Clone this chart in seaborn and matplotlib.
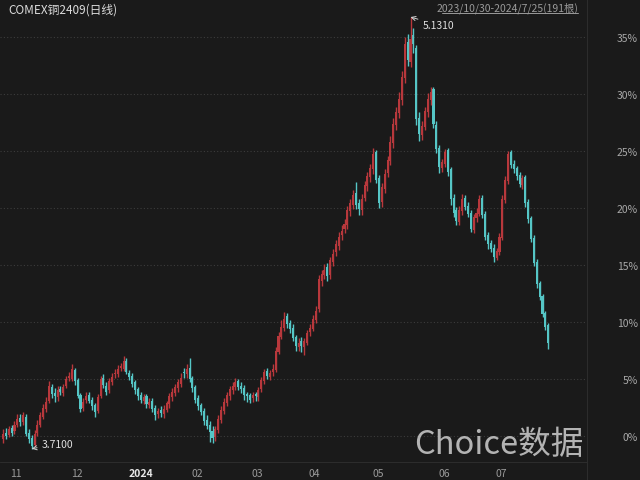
import numpy as np
import pandas as pd
import matplotlib
matplotlib.use("Agg")
import matplotlib.pyplot as plt
import seaborn as sns
from matplotlib.lines import Line2D

# --------------------------------------------------------------
# Daily candles, % change vs. base (0% line), 191 bars
# --------------------------------------------------------------
opens = [
    -0.3, 0.3, 0.1, 0.7, 0.4, 1.0, 1.6, 1.2, 1.7, 0.3,
    -0.2, -0.8, 0.3, 1.0, 1.7, 2.4, 3.1, 4.3, 3.8, 3.4,
    4.1, 3.8, 4.4, 5.1, 5.0, 5.8, 4.9, 3.6, 2.5, 3.2,
    3.6, 3.2, 2.7, 2.2, 3.5, 5.1, 4.4, 4.0, 4.7, 5.4,
    5.4, 6.0, 5.9, 6.6, 5.5, 5.3, 4.7, 4.1, 3.6, 3.1,
    3.5, 2.7, 3.1, 2.5, 1.9, 2.3, 1.9, 2.3, 2.8, 3.4,
    3.8, 4.2, 4.6, 5.6, 5.4, 6.0, 5.1, 4.3, 3.3, 2.7,
    2.2, 1.4, 1.0, 0.4, -0.1, 0.5, 1.4, 2.2, 2.9, 3.5,
    4.0, 4.3, 4.8, 4.4, 4.2, 3.7, 3.6, 3.3, 3.7, 3.4,
    4.1, 4.8, 5.7, 5.2, 5.6, 5.8, 7.4, 8.7, 9.5, 10.5,
    9.9, 9.5, 8.7, 7.8, 8.3, 7.8, 8.2, 9.1, 9.4, 10.2,
    11.1, 13.6, 14.1, 14.8, 14.1, 15.3, 16.1, 16.7, 17.6, 18.2,
    18.5, 19.7, 20.3, 21.3, 20.4, 19.8, 20.9, 21.9, 22.7, 23.4,
    24.9, 22.6, 20.5, 21.7, 23.1, 24.1, 25.7, 27.3, 28.3, 29.5,
    31.4, 34.6, 32.8, 35.2, 34.0, 27.9, 26.4, 27.1, 28.4, 29.5,
    30.4, 27.3, 25.3, 23.5, 23.9, 25.1, 23.4, 20.9, 19.8, 18.8,
    19.7, 20.9, 20.2, 19.6, 18.1, 19.1, 19.5, 20.9, 19.5, 17.6,
    16.9, 16.5, 15.6, 16.1, 17.4, 20.7, 22.4, 24.9, 23.9, 23.5,
    22.9, 22.0, 22.7, 20.5, 19.1, 17.4, 15.3, 13.4, 12.3, 10.8,
    9.7,
]
highs = [
    0.6, 0.7, 0.9, 1.0, 1.3, 1.9, 1.9, 2.1, 1.9, 0.6,
    0.1, 0.5, 1.4, 2.1, 2.8, 3.4, 4.8, 4.6, 4.2, 4.4,
    4.4, 4.6, 5.3, 5.6, 6.3, 6.0, 5.1, 3.8, 3.3, 3.9,
    3.9, 3.4, 2.9, 3.7, 5.3, 5.4, 4.7, 5.1, 5.5, 5.9,
    6.2, 6.4, 7.0, 6.8, 5.8, 5.5, 4.9, 4.3, 3.9, 3.7,
    3.7, 3.3, 3.3, 2.7, 2.5, 2.6, 2.7, 3.1, 3.8, 4.2,
    4.6, 5.0, 5.5, 6.0, 6.3, 6.8, 5.3, 4.5, 3.6, 2.9,
    2.5, 1.8, 1.3, 0.9, 0.9, 1.8, 2.6, 3.3, 3.9, 4.4,
    4.7, 5.1, 5.0, 4.7, 4.5, 3.9, 3.8, 3.9, 3.9, 4.3,
    5.2, 5.9, 6.0, 5.8, 6.3, 7.8, 9.1, 10.2, 10.9, 10.8,
    10.2, 9.8, 8.9, 8.6, 8.7, 8.6, 9.3, 9.8, 10.6, 11.4,
    14.1, 14.6, 15.1, 15.2, 15.7, 16.4, 17.2, 17.9, 18.5, 19.0,
    20.2, 20.8, 21.6, 22.3, 20.8, 21.2, 22.4, 23.2, 23.9, 25.3,
    25.1, 22.9, 22.2, 23.4, 24.6, 26.3, 27.9, 28.9, 30.2, 32.0,
    35.0, 35.3, 36.75, 35.8, 34.3, 28.4, 27.6, 28.9, 30.1, 30.6,
    30.6, 27.6, 25.5, 24.3, 25.2, 25.3, 23.6, 21.2, 20.1, 20.2,
    21.2, 21.1, 20.5, 19.8, 19.5, 20.0, 21.1, 21.1, 19.7, 17.9,
    17.2, 16.8, 16.5, 17.8, 21.1, 22.8, 25.0, 25.1, 24.2, 23.7,
    23.2, 22.9, 22.9, 20.8, 19.3, 17.6, 15.5, 13.6, 12.5, 11.0,
    9.9,
]
lows = [
    -0.6, -0.3, -0.1, 0.0, 0.2, 0.8, 0.9, 1.0, 0.0, -0.6,
    -1.12, -0.9, 0.0, 0.8, 1.5, 2.1, 2.9, 3.3, 3.0, 3.1,
    3.6, 3.5, 4.2, 4.8, 4.8, 4.5, 3.3, 2.1, 2.2, 2.9,
    2.9, 2.3, 1.7, 2.0, 3.3, 4.2, 3.6, 3.8, 4.5, 5.1,
    5.2, 5.7, 5.7, 5.4, 4.9, 4.3, 3.7, 3.2, 2.9, 2.8,
    2.5, 2.5, 2.1, 1.4, 1.6, 1.7, 1.6, 2.1, 2.5, 3.1,
    3.5, 3.9, 4.3, 5.1, 5.1, 4.7, 3.9, 2.9, 2.3, 1.8,
    1.0, 0.6, -0.5, -0.6, -0.4, 0.3, 1.1, 1.9, 2.6, 3.2,
    3.7, 4.0, 4.0, 3.8, 3.2, 3.0, 2.9, 3.0, 3.1, 3.1,
    3.9, 4.6, 5.0, 4.9, 5.3, 5.6, 7.2, 8.5, 9.2, 9.5,
    9.0, 8.3, 7.5, 7.5, 7.4, 7.1, 8.0, 8.8, 9.2, 9.9,
    10.9, 13.2, 13.8, 13.6, 13.8, 14.9, 15.8, 16.3, 17.2, 17.8,
    18.2, 19.3, 19.9, 19.9, 19.4, 19.4, 20.6, 21.5, 22.3, 23.0,
    22.2, 20.0, 20.1, 21.3, 22.7, 23.8, 25.3, 26.8, 27.9, 29.0,
    31.0, 32.5, 32.4, 33.6, 27.3, 25.9, 26.0, 26.8, 28.0, 29.0,
    27.0, 24.8, 23.1, 23.2, 23.6, 22.8, 20.3, 19.2, 18.5, 18.5,
    19.4, 19.8, 19.2, 17.9, 17.8, 18.8, 19.3, 19.1, 17.2, 16.4,
    16.1, 15.3, 15.4, 15.9, 17.2, 20.4, 22.1, 23.5, 23.1, 22.5,
    21.8, 21.7, 20.1, 18.7, 17.0, 14.9, 13.0, 11.9, 10.4, 9.3,
    7.6,
]
closes = [
    0.2, 0.0, 0.6, 0.3, 1.0, 1.5, 1.2, 1.8, 0.2, -0.3,
    -0.9, 0.2, 1.0, 1.8, 2.5, 3.0, 4.4, 3.7, 3.5, 4.0,
    3.9, 4.3, 5.0, 5.2, 5.9, 4.8, 3.5, 2.4, 3.0, 3.5,
    3.1, 2.6, 2.1, 3.4, 5.0, 4.5, 3.9, 4.8, 5.2, 5.5,
    5.9, 6.1, 6.6, 5.6, 5.2, 4.6, 4.0, 3.5, 3.2, 3.4,
    2.8, 3.0, 2.4, 1.8, 2.2, 2.0, 2.4, 2.9, 3.5, 3.9,
    4.3, 4.7, 5.1, 5.5, 5.9, 5.0, 4.2, 3.2, 2.6, 2.1,
    1.3, 0.9, 0.35, -0.2, 0.6, 1.5, 2.3, 3.0, 3.6, 4.1,
    4.4, 4.7, 4.3, 4.1, 3.6, 3.5, 3.2, 3.6, 3.5, 4.0,
    4.9, 5.6, 5.3, 5.5, 5.9, 7.5, 8.8, 9.6, 10.3, 9.8,
    9.4, 8.6, 7.9, 8.2, 7.9, 8.3, 9.0, 9.5, 10.3, 11.0,
    13.8, 14.2, 14.6, 14.0, 15.4, 16.0, 16.8, 17.5, 18.0, 18.6,
    19.8, 20.4, 21.1, 20.3, 19.9, 20.8, 22.0, 22.8, 23.5, 24.7,
    22.5, 20.4, 21.8, 23.0, 24.2, 25.8, 27.4, 28.4, 29.6, 31.5,
    34.4, 33.0, 34.8, 34.4, 27.8, 26.5, 27.2, 28.5, 29.6, 30.2,
    27.4, 25.2, 23.6, 24.0, 24.9, 23.2, 20.8, 19.6, 18.9, 19.8,
    20.8, 20.1, 19.5, 18.2, 19.2, 19.6, 20.8, 19.4, 17.5, 16.8,
    16.4, 15.7, 16.2, 17.5, 20.8, 22.5, 24.7, 23.8, 23.4, 22.8,
    22.1, 22.6, 20.4, 19.0, 17.3, 15.2, 13.3, 12.2, 10.7, 9.6,
    8.2,
]

month_labels = ["11", "12", "2024", "02", "03", "04", "05", "06", "07"]
month_idx = [3, 24, 44, 66, 87, 107, 129, 152, 172]
pct_ticks = [0, 5, 10, 15, 20, 25, 30, 35]

title = "COMEX铜2409(日线)"
range_text = "2023/10/30-2024/7/25(191根)"
high_label, high_idx, high_pct = "5.1310", 142, 36.75
low_label, low_idx, low_pct = "3.7100", 10, -1.12

BG = "#1a1a1a"
UP = "#b8383c"
DOWN = "#55c6c6"

sns.set_theme(style="dark", rc={
    "figure.facecolor": BG,
    "axes.facecolor": BG,
    "savefig.facecolor": BG,
})
plt.rcParams["font.family"] = ["Noto Sans CJK SC", "DejaVu Sans"]

df = pd.DataFrame({"open": opens, "high": highs, "low": lows, "close": closes})
df["x"] = np.arange(len(df))
df["up"] = df["close"] >= df["open"]
colors = np.where(df["up"], UP, DOWN)

fig = plt.figure(figsize=(6.4, 4.81), dpi=100)
ax = fig.add_axes([0, 0, 587 / 640, 1])

# wicks and bodies
ax.vlines(df["x"], df["low"], df["high"], colors=colors, lw=1)
body_lo = df[["open", "close"]].min(axis=1)
body_h = (df["close"] - df["open"]).abs().clip(lower=0.12)
ax.bar(df["x"], body_h, bottom=body_lo, width=0.72, color=colors, linewidth=0)

ax.set_xlim(-1.05, 203.5)
ax.set_ylim(-(481 - 437) / 11.4, 437 / 11.4)

# right-hand % axis
ax.yaxis.tick_right()
ax.set_yticks(pct_ticks)
ax.set_yticklabels([f"{t}%" for t in pct_ticks])
ax.tick_params(axis="y", length=0, pad=36.5, labelsize=7.5, labelcolor="#a8a8a8")
for lbl in ax.get_yticklabels():
    lbl.set_ha("right")
ax.set_xticks([])
ax.yaxis.grid(True, color="#3c3c3c", linestyle=(0, (1, 2)), lw=0.8)
ax.xaxis.grid(False)
for s in ["top", "left", "bottom"]:
    ax.spines[s].set_visible(False)
ax.spines["right"].set_color("#2c2c2c")
ax.spines["right"].set_linewidth(0.8)

# x-axis strip separator and month labels
ax.axhline(-(463 - 437) / 11.4, color="#2c2c2c", lw=0.8)
for lab, i in zip(month_labels, month_idx):
    bold = lab == "2024"
    ax.text(i - 0.4, -(474 - 437) / 11.4, lab, ha="left", va="center",
            fontsize=7.5, color="#e8e8e8" if bold else "#9a9a9a",
            fontweight="bold" if bold else "normal")

# high / low markers
ax.annotate(high_label, xy=(high_idx, high_pct), xytext=(12, -8),
            textcoords="offset pixels", ha="left", va="center",
            fontsize=7.5, color="#e0e0e0",
            arrowprops=dict(arrowstyle="->", color="#d0d0d0", lw=0.7,
                            shrinkA=1, shrinkB=0))
ax.annotate(low_label, xy=(low_idx, low_pct), xytext=(10, 5),
            textcoords="offset pixels", ha="left", va="center",
            fontsize=7.5, color="#e0e0e0",
            arrowprops=dict(arrowstyle="->", color="#d0d0d0", lw=0.7,
                            shrinkA=1, shrinkB=0))

# header texts
fig.text(8 / 640, 1 - 10 / 481, title, ha="left", va="center",
         fontsize=8.5, color="#dcdcdc")
fig.text(578 / 640, 1 - 8 / 481, range_text, ha="right", va="center",
         fontsize=7.5, color="#9a9a9a")
fig.add_artist(Line2D([442 / 640, 578 / 640], [1 - 14 / 481, 1 - 14 / 481],
                      color="#9a9a9a", lw=0.7))

# watermark
fig.text(414 / 640, 1 - 445 / 481, "Choice数据", ha="left", va="center",
         fontsize=23.5, color="#cfcfcf", alpha=0.85)

fig.savefig("out.png", dpi=100, facecolor=BG)
